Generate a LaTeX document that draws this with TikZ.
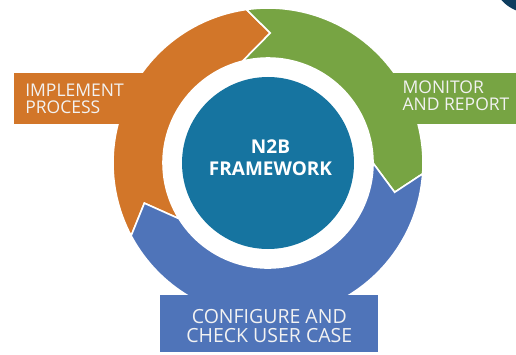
\documentclass[tikz,border=0pt]{standalone}
\usepackage{fontspec}
\setmainfont{Open Sans}
\usepackage{tikz}

\definecolor{implorange}{HTML}{D27629}
\definecolor{monitorgreen}{HTML}{77A443}
\definecolor{configblue}{HTML}{4F74B9}
\definecolor{hubblue}{HTML}{1674A0}
\definecolor{cornernavy}{HTML}{0E3D5F}

\tikzset{
  seg/.style={draw=white, line width=1.6pt, line join=miter},
  steplabel/.style={inner sep=0pt, text=white!95!black, font=\fontsize{17.5}{16.5}\selectfont},
}

\begin{document}
\begin{tikzpicture}[x=1pt, y=1pt]
	\useasboundingbox (0,0) rectangle (516,354);
	\clip (0,0) rectangle (516,354);

	\fill [cornernavy] (530,379) circle (38);

	\begin{scope}[shift={(268,191)}]
		\filldraw [seg, fill=implorange] (208:155) arc[start angle=208, end angle=98, radius=155]
			-- (89:130) -- (104:105) arc[start angle=104, end angle=212, radius=105] -- (198:130) -- cycle;

		\filldraw [seg, fill=monitorgreen] (98:155) arc[start angle=98, end angle=-4, radius=155]
			-- (-13:130) -- (0:105) arc[start angle=0, end angle=104, radius=105] -- (89:130) -- cycle;

		\filldraw [seg, fill=configblue] (-4:155) arc[start angle=-4, end angle=-152, radius=155]
			-- (-162:130) -- (-148:105) arc[start angle=-148, end angle=0, radius=105] -- (-13:130) -- cycle;

		\fill [hubblue] (0,0) circle (86);
	\end{scope}

	\fill [implorange] (14,230) rectangle (155,281);
	\fill [monitorgreen] (380,230) rectangle (516,281);
	\fill [configblue] (160,2) rectangle (378,59);

	\node [steplabel, align=left] (implement) at (74.5,255.3) {IMPLEMENT\\PROCESS};
	\node [steplabel, align=left] (monitor) at (456,258.1) {MONITOR\\AND REPORT};
	\node [steplabel, align=center, font=\fontsize{19.5}{18.7}\selectfont] (configure) at (269.3,27.7) {CONFIGURE AND\\CHECK USER CASE};

	\node [inner sep=0pt, align=center, text=white, font=\bfseries\fontsize{19}{22.3}\selectfont] (framework) at (270.5,196.5) {N2B\\FRAMEWORK};
\end{tikzpicture}
\end{document}
